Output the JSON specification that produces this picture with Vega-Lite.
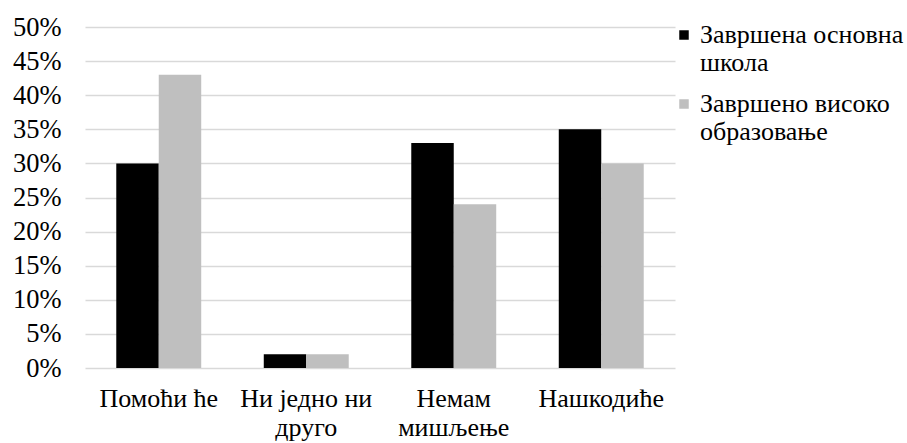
{
  "$schema": "https://vega.github.io/schema/vega-lite/v6.json",
  "width": 590,
  "height": 341,
  "autosize": "none",
  "padding": {"left": 85, "top": 27, "right": 232, "bottom": 75},
  "background": "white",
  "config": {
    "view": {"stroke": null}
  },
  "data": {
    "values": [
      {"answer": "Помоћи ће", "group": "Завршена основна школа", "share": 0.30},
      {"answer": "Помоћи ће", "group": "Завршено високо образовање", "share": 0.43},
      {"answer": "Ни једно ни друго", "group": "Завршена основна школа", "share": 0.02},
      {"answer": "Ни једно ни друго", "group": "Завршено високо образовање", "share": 0.02},
      {"answer": "Немам мишљење", "group": "Завршена основна школа", "share": 0.33},
      {"answer": "Немам мишљење", "group": "Завршено високо образовање", "share": 0.24},
      {"answer": "Нашкодиће", "group": "Завршена основна школа", "share": 0.35},
      {"answer": "Нашкодиће", "group": "Завршено високо образовање", "share": 0.30}
    ]
  },
  "mark": {"type": "bar"},
  "encoding": {
    "x": {
      "field": "answer",
      "type": "nominal",
      "sort": null,
      "scale": {"paddingInner": 0.424, "paddingOuter": 0.212},
      "axis": {
        "title": null,
        "labelAngle": 0,
        "labelFont": "Liberation Serif",
        "labelColor": "#000000",
        "labelFontSize": 26,
        "labelPadding": 17,
        "labelLineHeight": 29,
        "labelBaseline": "top",
        "labelLimit": 200,
        "ticks": false,
        "domain": false,
        "labelExpr": "datum.value == 'Ни једно ни друго' ? ['Ни једно ни', 'друго'] : datum.value == 'Немам мишљење' ? ['Немам', 'мишљење'] : datum.value"
      }
    },
    "xOffset": {"field": "group", "type": "nominal", "scale": {"paddingInner": 0, "paddingOuter": 0}},
    "y": {
      "field": "share",
      "type": "quantitative",
      "scale": {"domain": [0, 0.5]},
      "axis": {
        "title": null,
        "format": ".0%",
        "values": [0, 0.05, 0.1, 0.15, 0.2, 0.25, 0.3, 0.35, 0.4, 0.45, 0.5],
        "labelOverlap": false,
        "labelFont": "Liberation Serif",
        "labelColor": "#000000",
        "labelFontSize": 26.5,
        "labelPadding": 24,
        "ticks": false,
        "domain": false,
        "grid": true,
        "gridColor": "#d9d9d9",
        "gridWidth": 1.5
      }
    },
    "color": {
      "field": "group",
      "type": "nominal",
      "scale": {"range": ["#000000", "#bfbfbf"]},
      "legend": {
        "title": null,
        "orient": "none",
        "legendX": 586,
        "legendY": -5,
        "symbolType": "square",
        "symbolSize": 90,
        "symbolStrokeWidth": 0,
        "labelFont": "Liberation Serif",
        "labelColor": "#000000",
        "labelFontSize": 26,
        "labelLineHeight": 30,
        "labelLimit": 300,
        "labelOffset": 3,
        "rowPadding": 15,
        "labelExpr": "datum.value == 'Завршена основна школа' ? ['Завршена основна', 'школа'] : ['Завршено високо', 'образовање']"
      }
    }
  }
}
